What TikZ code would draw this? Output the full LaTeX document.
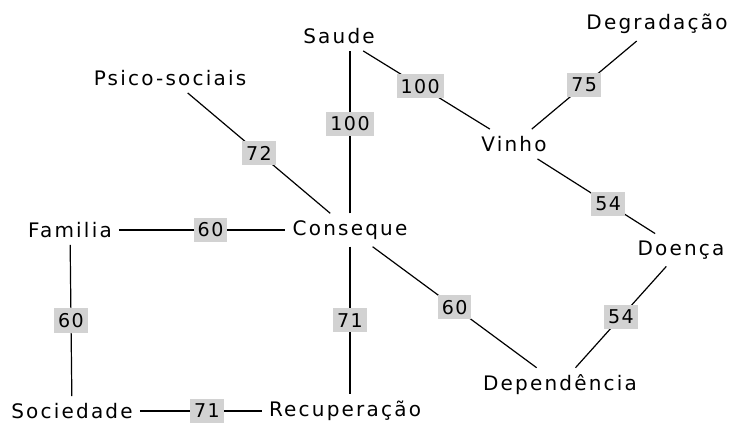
\documentclass[tikz,border=0pt]{standalone}
\usepackage{fontspec}
\setmainfont{DejaVu Sans}[LetterSpace=11]
\newfontfamily\weightFont{DejaVu Sans}[LetterSpace=8]
\usetikzlibrary{positioning}
\tikzstyle{mapa} = [x = 1pt, y = -1pt]
\tikzstyle{conceptStyle} = [font=\fontsize{20}{22}\selectfont, inner sep = 7pt]
\tikzstyle{edgeStyle} = [color=black, line width = 1.2pt]
\tikzstyle{weightStyle} = [font=\weightFont\fontsize{19}{21}\selectfont, fill=gray!35, inner xsep = 4pt, inner ysep = 5pt]
\newcommand{\weightedEdge}[4]{\draw [edgeStyle] (#1) -- node [weightStyle, pos = #4] {#3} (#2);}

\begin{document}
\begin{tikzpicture}[mapa]
            \useasboundingbox (0,0) rectangle (735,425);
            % conceitos
            \node [conceptStyle] (saude) at (339,36) {Saude};
            \node [conceptStyle] (degradacao) at (657,24) {Degradação};
            \node [conceptStyle] (psico) at (170,78) {Psico-sociais};
            \node [conceptStyle] (vinho) at (514,144) {Vinho};
            \node [conceptStyle] (familia) at (70,230) {Familia};
            \node [conceptStyle] (conseque) at (350,230) {Conseque};
            \node [conceptStyle] (doenca) at (681,250) {Doença};
            \node [conceptStyle] (dependencia) at (560,385) {Dependência};
            \node [conceptStyle] (sociedade) at (72,411) {Sociedade};
            \node [conceptStyle] (recuperacao) at (345,411) {Recuperação};

            % ligacoes
            \weightedEdge{conseque}{conseque |- saude.south}{100}{.55}
            \weightedEdge{saude}{vinho}{100}{.45}
            \weightedEdge{vinho}{degradacao}{75}{.5}
            \weightedEdge{psico}{conseque}{72}{.5}
            \weightedEdge{vinho}{doenca}{54}{.6}
            \weightedEdge{familia}{conseque}{60}{.55}
            \weightedEdge{familia}{sociedade}{60}{.5}
            \weightedEdge{conseque}{conseque |- recuperacao.north}{71}{.5}
            \weightedEdge{conseque}{dependencia}{60}{.5}
            \weightedEdge{doenca}{dependencia}{54}{.5}
            \weightedEdge{sociedade}{recuperacao}{71}{.55}
          \end{tikzpicture}
\end{document}
